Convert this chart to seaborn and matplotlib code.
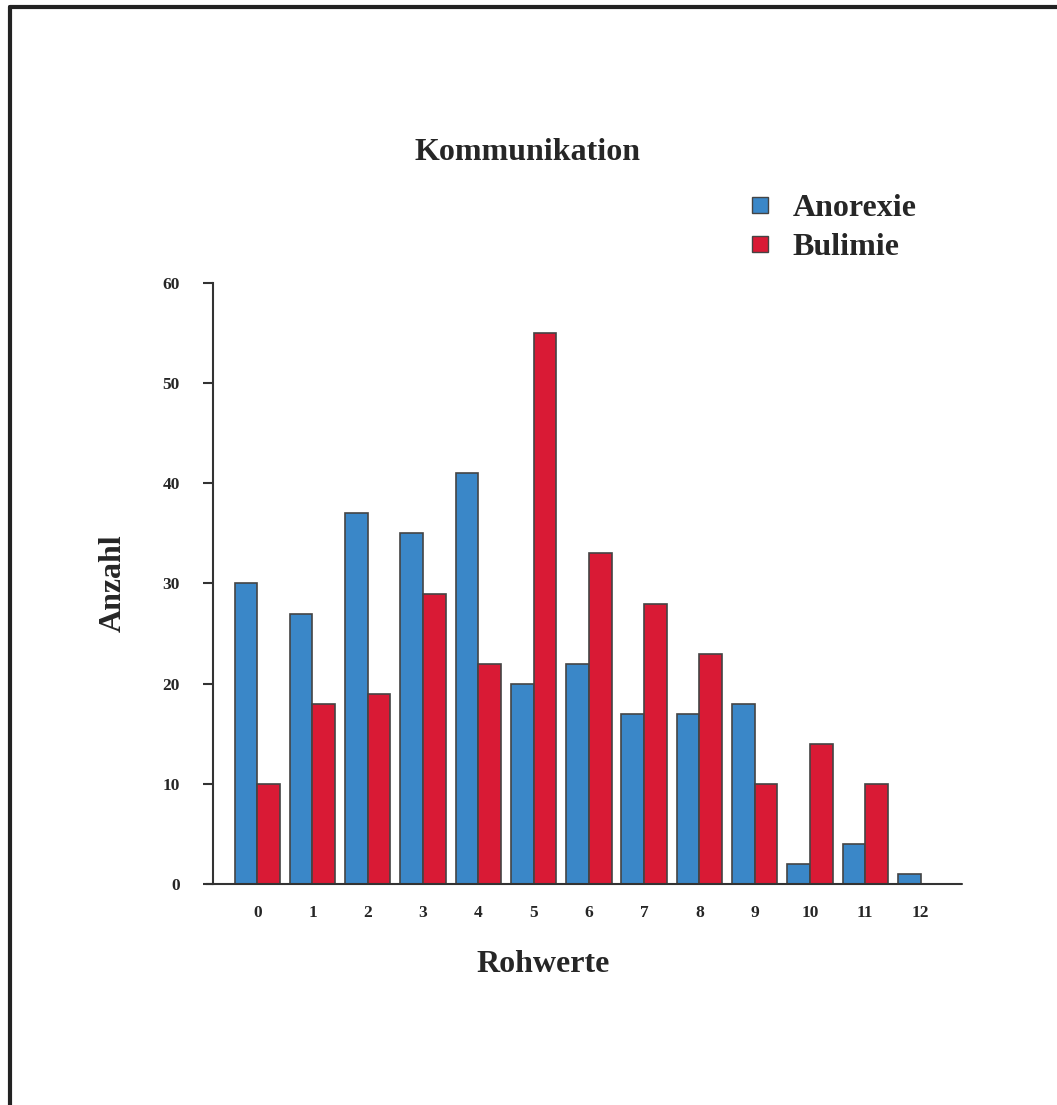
import numpy as np
import pandas as pd
import seaborn as sns
import matplotlib.pyplot as plt
from matplotlib.lines import Line2D

# Data
rohwerte = [str(i) for i in range(13)]
anorexie = [30, 27, 37, 35, 41, 20, 22, 17, 17, 18, 2, 4, 1]
bulimie = [10, 18, 19, 29, 22, 55, 33, 28, 23, 10, 14, 10, 0]
gruppen = ["Anorexie", "Bulimie"]
farben = ["#3a87c8", "#d91a35"]

df = pd.DataFrame({
    "Rohwerte": rohwerte * 2,
    "Anzahl": anorexie + bulimie,
    "Gruppe": [gruppen[0]] * len(rohwerte) + [gruppen[1]] * len(rohwerte),
})

sns.set_style("white")
plt.rcParams["font.family"] = ["Liberation Serif", "DejaVu Serif"]
plt.rcParams["font.weight"] = "bold"

fig = plt.figure(figsize=(10.57, 11.05), dpi=100)
ax = fig.add_axes([0.2015, 0.2, 0.7086, 0.5439])

sns.barplot(data=df, x="Rohwerte", y="Anzahl", hue="Gruppe", order=rohwerte,
            hue_order=gruppen, palette=farben, width=0.82, edgecolor="#444444",
            linewidth=1.2, saturation=1, ax=ax, legend=False)

ax.set_ylim(0, 60)
ax.set_xlim(-0.8, 12.75)
ax.set_yticks(range(0, 61, 10))
ax.tick_params(axis="y", length=7, width=1.5, color="#333333", labelsize=12.5, pad=17, left=True)
ax.tick_params(axis="x", length=0, labelsize=12.5, pad=15)
for lbl in ax.get_xticklabels() + ax.get_yticklabels():
    lbl.set_fontweight("bold")
sns.despine(ax=ax)
ax.spines["bottom"].set_visible(False)
ax.spines["left"].set_color("#333333")
ax.spines["left"].set_linewidth(1.5)
# x axis line reaches a little past the y axis, as in the original
ax.axhline(0, xmin=-0.009, xmax=1, color="#333333", linewidth=1.5, clip_on=False)

ax.set_xlabel("Rohwerte", fontsize=23, fontweight="bold")
ax.xaxis.set_label_coords(0.441, -0.109)
ax.set_ylabel("Anzahl", fontsize=23, fontweight="bold")
ax.yaxis.set_label_coords(-0.114, 0.5)
fig.text(0.4995, 0.862, "Kommunikation", ha="center", va="center",
         fontsize=23, fontweight="bold")

handles = [Line2D([], [], marker="s", linestyle="", markersize=12,
                  markerfacecolor=c, markeredgecolor="#444444") for c in farben]
fig.legend(handles, gruppen, loc="upper left", bbox_to_anchor=(0.674, 0.851),
           frameon=False, prop={"size": 23, "weight": "bold"},
           handletextpad=0.4, labelspacing=0.3, handlelength=1.2)

# figure frame (top and left edges)
fig.add_artist(Line2D([0.0095, 0.0095], [0, 0.994], transform=fig.transFigure,
                      color="#222222", linewidth=3))
fig.add_artist(Line2D([0.0095, 1], [0.994, 0.994], transform=fig.transFigure,
                      color="#222222", linewidth=3))

fig.savefig("out.png", dpi=100)
